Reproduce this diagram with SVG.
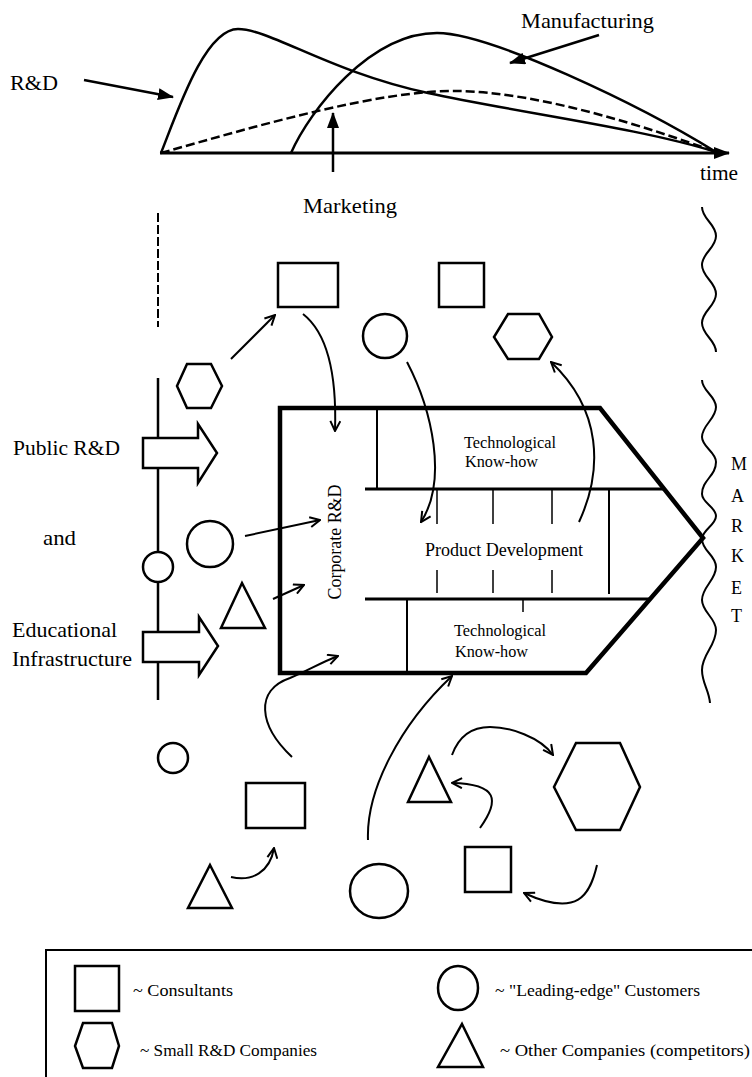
<svg xmlns="http://www.w3.org/2000/svg" width="752" height="1077" viewBox="0 0 752 1077" font-family="'Liberation Serif', serif">
<style>
text { font-family: "Liberation Serif", "Times New Roman", serif; fill: #000; }
.s { fill: #fff; stroke: #000; stroke-width: 2.5; }
.c { fill: none; stroke: #000; stroke-width: 2; marker-end: url(#v); }
.cv { fill: none; stroke: #000; stroke-width: 2.5; }
.ln { fill: none; stroke: #000; }
.lbl { font-size: 22px; }
.in { font-size: 16px; }
.lg { font-size: 17px; }
</style>
<defs>
<marker id="v" viewBox="0 0 12 12" refX="11" refY="6" markerWidth="12" markerHeight="12" markerUnits="userSpaceOnUse" orient="auto">
<path d="M1,1 L11,6 L1,11" fill="none" stroke="#000" stroke-width="2"/>
</marker>
<marker id="f" viewBox="0 0 16 12" refX="15" refY="6" markerWidth="16" markerHeight="12" markerUnits="userSpaceOnUse" orient="auto">
<path d="M0,0 L16,6 L0,12 Z" fill="#000"/>
</marker>
</defs>
<rect width="752" height="1077" fill="#fff"/>

<g id="chart">
<path class="ln" d="M160,153 L729,153" stroke-width="3" marker-end="url(#f)"/>
<path id="curve-rd" class="cv" d="M161,153 C178,110 205,29 238,29 C270,29 330,72 428,93 C520,113 640,128 716,152"/>
<path id="curve-mfg" class="cv" d="M291,153 C310,110 370,33 437,33 C490,33 640,105 716,152"/>
<path id="curve-mkt" class="cv" stroke-dasharray="9,4" d="M161,153 C260,125 380,90 457,91 C540,92 650,128 716,152"/>
<path class="ln" stroke-width="2.5" d="M84,80 L173,97" marker-end="url(#f)"/>
<path class="ln" stroke-width="2.5" d="M599,35 L510,63" marker-end="url(#f)"/>
<path class="ln" stroke-width="2.5" d="M333,172 L333,113" marker-end="url(#f)"/>
<text class="lbl" x="10" y="90" textLength="48" lengthAdjust="spacingAndGlyphs">R&amp;D</text>
<text class="lbl" x="521" y="28" textLength="133" lengthAdjust="spacingAndGlyphs">Manufacturing</text>
<text class="lbl" x="700" y="180" textLength="38" lengthAdjust="spacingAndGlyphs">time</text>
<text class="lbl" x="303" y="213" textLength="94" lengthAdjust="spacingAndGlyphs">Marketing</text>
</g>

<g id="boundary-left">
<path class="ln" stroke-width="2" stroke-dasharray="9,3" d="M158,213 L158,327"/>
<path class="ln" stroke-width="2.5" d="M158,378 L158,700"/>
</g>

<g id="market-boundary">
<path class="ln" stroke-width="2" d="M702,207 C702,219 716,224 716,236 C716,248 702,253 702,265 C702,277 716,282 716,294 C716,306 702,311 702,323 C702,335 716,340 716,352"/>
<path class="ln" stroke-width="2" d="M702,380 C702,391 716,396 716,407 C716,419 702,425 702,437 C702,447 716,452 716,462 C716,476 702,480 702,494 C702,503 716,507 716,516 C716,525 702,530 702,539 C702,551 716,555 716,567 C716,580 702,587 702,600 C702,612 716,618 716,630 C716,646 702,654 702,670 C702,683 709,690 710,703"/>
<text font-size="18">
<tspan x="731" y="470">M</tspan>
<tspan x="731" y="502">A</tspan>
<tspan x="731" y="532">R</tspan>
<tspan x="731" y="562">K</tspan>
<tspan x="731" y="594">E</tspan>
<tspan x="731" y="622">T</tspan>
</text>
</g>

<g id="public-rd">
<polygon class="s" stroke-width="3" points="143,438 198,438 198,424 217,453 198,483 198,468 143,468"/>
<text class="lbl" x="13" y="455" textLength="107" lengthAdjust="spacingAndGlyphs">Public R&amp;D</text>
<text class="lbl" x="43" y="545" textLength="33" lengthAdjust="spacingAndGlyphs">and</text>
</g>
<g id="educational">
<polygon class="s" stroke-width="3" points="143,632 199,632 199,617 218,646 199,675 199,662 143,662"/>
<text class="lbl" x="12" y="637" textLength="105" lengthAdjust="spacingAndGlyphs">Educational</text>
<text class="lbl" x="12" y="666" textLength="120" lengthAdjust="spacingAndGlyphs">Infrastructure</text>
</g>
<g id="line-circle"><circle class="s" cx="158" cy="567" r="15"/></g>

<g id="firm">
<path fill="#fff" stroke="#000" stroke-width="4.5" stroke-linejoin="miter" d="M280,408 L600,408 L703,538 L586,673 L280,673 Z"/>
<path class="ln" stroke-width="3" d="M365,489 L664,489 M365,599 L650,599"/>
<path class="ln" stroke-width="2" d="M377,408 L377,489 M407,599 L407,673 M609,489 L609,594"/>
<path class="ln" stroke-width="1.5" d="M437,489 L437,524 M493,489 L493,524 M552,489 L552,524 M437,570 L437,593 M493,570 L493,593 M552,570 L552,593 M523,599 L523,612"/>
<text class="in" x="464" y="448" textLength="92" lengthAdjust="spacingAndGlyphs">Technological</text>
<text class="in" x="465" y="467" textLength="73" lengthAdjust="spacingAndGlyphs">Know-how</text>
<text font-size="18" x="425" y="556" textLength="158" lengthAdjust="spacingAndGlyphs">Product Development</text>
<text class="in" x="454" y="636" textLength="92" lengthAdjust="spacingAndGlyphs">Technological</text>
<text class="in" x="455" y="657" textLength="73" lengthAdjust="spacingAndGlyphs">Know-how</text>
<text font-size="18" x="341" y="542" text-anchor="middle" transform="rotate(-90 341 542)" textLength="115" lengthAdjust="spacingAndGlyphs">Corporate R&amp;D</text>
</g>

<g id="consultant-1"><rect class="s" x="278" y="263" width="60" height="44"/></g>
<g id="consultant-2"><rect class="s" x="439" y="263" width="45" height="44"/></g>
<g id="customer-1"><ellipse class="s" cx="385" cy="336" rx="22" ry="22"/></g>
<g id="smallrd-1"><polygon class="s" points="508,314 539,314 552,337 539,359 508,359 494,337"/></g>
<g id="smallrd-2"><polygon class="s" points="187,364 211,364 222,386 211,408 187,408 177,386"/></g>
<g id="customer-2"><circle class="s" cx="210" cy="544" r="23"/></g>
<g id="competitor-1"><polygon class="s" points="242,583 265,628 221,628"/></g>
<g id="customer-3"><circle class="s" cx="173" cy="758" r="15"/></g>
<g id="consultant-3"><rect class="s" x="246" y="783" width="59" height="45"/></g>
<g id="competitor-2"><polygon class="s" points="429,757 451,802 408,802"/></g>
<g id="smallrd-3"><polygon class="s" points="576,743 620,743 640,787 620,830 576,830 554,787"/></g>
<g id="competitor-3"><polygon class="s" points="210,865 232,908 188,908"/></g>
<g id="customer-4"><ellipse class="s" cx="379" cy="891" rx="29" ry="27"/></g>
<g id="consultant-4"><rect class="s" x="465" y="847" width="46" height="45"/></g>

<g id="connectors">
<path class="c" d="M231,359 L275,315"/>
<path class="c" d="M303,314 C326,332 337,370 335,431"/>
<path class="c" d="M407,362 C432,410 448,480 421,522"/>
<path class="c" d="M579,522 C603,470 602,410 551,362"/>
<path class="c" d="M245,536 L320,520"/>
<path class="c" d="M273,599 L304,585"/>
<path class="c" d="M292,757 C258,725 255,690 290,678 C305,672 322,662 338,656"/>
<path class="c" d="M368,840 C366,790 400,725 452,676"/>
<path class="c" d="M452,755 C460,733 475,727 490,727 C510,727 540,737 553,755"/>
<path class="c" d="M480,828 C500,800 498,784 452,783"/>
<path class="c" d="M231,877 C252,882 270,872 274,848"/>
<path class="c" d="M597,865 C590,895 578,918 524,893"/>
</g>

<g id="legend">
<rect x="46" y="950" width="720" height="140" fill="none" stroke="#000" stroke-width="2"/>
<rect class="s" x="75" y="966" width="44" height="45"/>
<text class="lg" x="133" y="996" textLength="100" lengthAdjust="spacingAndGlyphs">~ Consultants</text>
<ellipse class="s" cx="458" cy="988" rx="20" ry="22"/>
<text class="lg" x="495" y="996" textLength="205" lengthAdjust="spacingAndGlyphs">~ "Leading-edge" Customers</text>
<polygon class="s" points="83,1023 112,1023 119,1046 112,1068 83,1068 75,1046"/>
<text class="lg" x="140" y="1056" textLength="177" lengthAdjust="spacingAndGlyphs">~ Small R&amp;D Companies</text>
<polygon class="s" points="462,1024 483,1067 438,1067"/>
<text class="lg" x="500" y="1056" textLength="250" lengthAdjust="spacingAndGlyphs">~ Other Companies (competitors)</text>
</g>
</svg>
